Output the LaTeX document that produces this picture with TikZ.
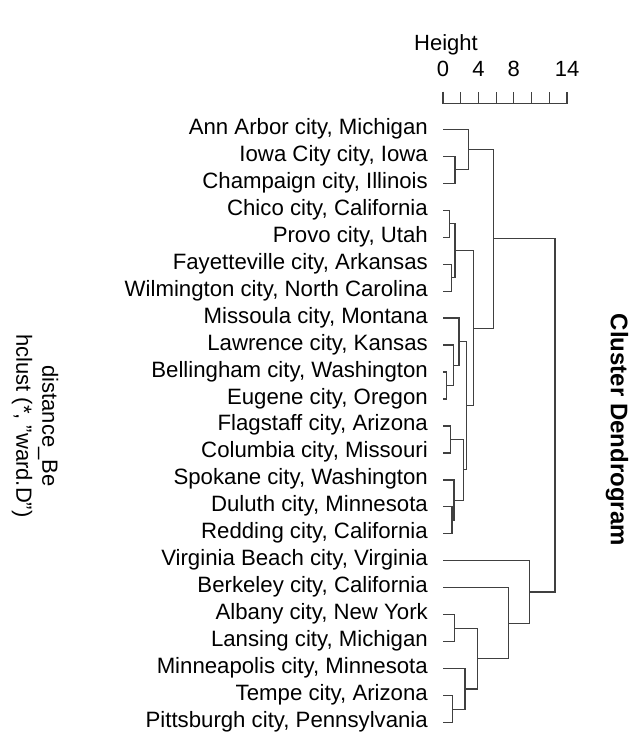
\documentclass[tikz,border=0pt]{standalone}
\usepackage{fontspec}
\setmainfont{Liberation Sans}
\begin{document}
\begin{tikzpicture}[x=1pt,y=-1pt,
  dline/.style={draw=black!75,line width=1.2pt},
  leaflabel/.style={anchor=base east,inner sep=0pt,font=\fontsize{22.2}{25}\selectfont},
  axlabel/.style={inner sep=0pt,font=\fontsize{22}{25}\selectfont},
  titlelabel/.style={inner sep=0pt,font=\fontsize{24}{28}\selectfont\bfseries}]
\useasboundingbox (0,0) rectangle (636,736);
\newcommand\ry[1]{129.3+26.97*(#1)}
% leaves
\foreach \i/\t in {0/{Ann Arbor city, Michigan},1/{Iowa City city, Iowa},2/{Champaign city, Illinois},3/{Chico city, California},4/{Provo city, Utah},5/{Fayetteville city, Arkansas},6/{Wilmington city, North Carolina},7/{Missoula city, Montana},8/{Lawrence city, Kansas},9/{Bellingham city, Washington},10/{Eugene city, Oregon},11/{Flagstaff city, Arizona},12/{Columbia city, Missouri},13/{Spokane city, Washington},14/{Duluth city, Minnesota},15/{Redding city, California},16/{Virginia Beach city, Virginia},17/{Berkeley city, California},18/{Albany city, New York},19/{Lansing city, Michigan},20/{Minneapolis city, Minnesota},21/{Tempe city, Arizona},22/{Pittsburgh city, Pennsylvania}}{
  \coordinate (l\i) at (443,{\ry{\i}});
  \node[leaflabel] (L\i) at (428,{\ry{\i}+5}) {\t};
}
% merges
\coordinate (m1) at (455,{\ry{1.5}});
\coordinate (m2) at (468.3,{\ry{0.75}});
\coordinate (m3) at (449.3,{\ry{3.5}});
\coordinate (m4) at (451.7,{\ry{5.5}});
\coordinate (m5) at (455,{\ry{4.5}});
\coordinate (m6) at (446.7,{\ry{9.5}});
\coordinate (m7) at (453.3,{\ry{8.75}});
\coordinate (m8) at (459,{\ry{7.875}});
\coordinate (m9) at (450.7,{\ry{11.5}});
\coordinate (m10) at (452,{\ry{14.5}});
\coordinate (m11) at (454,{\ry{13.75}});
\coordinate (m12) at (463.3,{\ry{12.625}});
\coordinate (m13) at (466.7,{\ry{10.25}});
\coordinate (m14) at (473.3,{\ry{7.375}});
\coordinate (m15) at (493.3,{\ry{4.0625}});
\coordinate (m16) at (454.3,{\ry{18.5}});
\coordinate (m17) at (452.3,{\ry{21.5}});
\coordinate (m18) at (465,{\ry{20.75}});
\coordinate (m19) at (477.3,{\ry{19.625}});
\coordinate (m20) at (508.3,{\ry{18.3125}});
\coordinate (m21) at (529.3,{\ry{17.15625}});
\coordinate (m22) at (555,{\ry{10.609375}});
\foreach \a/\b/\m in {l1/l2/m1, l0/m1/m2, l3/l4/m3, l5/l6/m4, m3/m4/m5, l9/l10/m6, l8/m6/m7, l7/m7/m8, l11/l12/m9, l14/l15/m10, l13/m10/m11, m9/m11/m12, m8/m12/m13, m5/m13/m14, m2/m14/m15, l18/l19/m16, l21/l22/m17, l20/m17/m18, m16/m18/m19, l17/m19/m20, l16/m20/m21, m15/m21/m22}{
  \draw[dline] (\a) -| (\m) |- (\b);
}
% axis
\draw[dline] (443,91.7) -- (443,103.3) -- (567,103.3) -- (567,91.7);
\foreach \k in {1,...,6}{
  \draw[dline] ({443+\k*124/7},103.3) -- ({443+\k*124/7},91.7);
}
\node[axlabel] (t0) at (443,69) {0};
\node[axlabel] (t4) at ({443+4*124/14},69) {4};
\node[axlabel] (t8) at ({443+8*124/14},69) {8};
\node[axlabel] (t14) at (567,69) {14};
\node[axlabel] (ht) at (446,45) {Height};
\node[titlelabel,rotate=-90] (title) at (617,430) {Cluster Dendrogram};
\node[axlabel,rotate=-90,align=center] (sub) at (35,426) {distance\_Be\\[1pt]hclust (*, "ward.D")};
\end{tikzpicture}
\end{document}
